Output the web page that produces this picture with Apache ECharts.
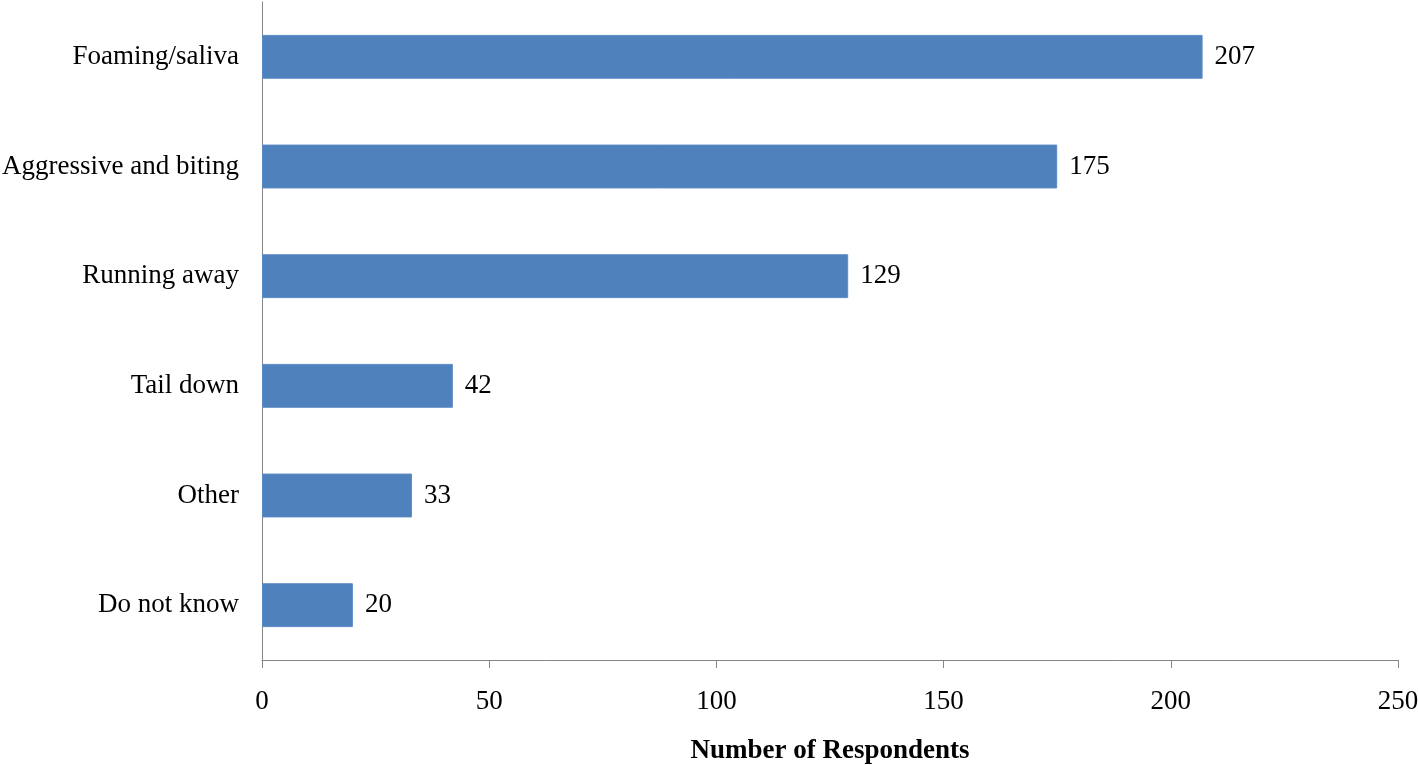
<!DOCTYPE html>
<html>
<head>
<meta charset="utf-8">
<script src="https://cdn.jsdelivr.net/npm/echarts@6/dist/echarts.min.js"></script>
<style>html,body{margin:0;padding:0;background:#fff}#c{width:1418px;height:765px}</style>
</head>
<body>
<div id="c"></div>
<script>
const categories = ["Foaming/saliva", "Aggressive and biting", "Running away", "Tail down", "Other", "Do not know"];
const values = [207, 175, 129, 42, 33, 20];
const xTicks = [0, 50, 100, 150, 200, 250];

const chart = echarts.init(document.getElementById('c'), null, {renderer: 'canvas'});
const font = "'Liberation Serif', 'Times New Roman', serif";
chart.setOption({
  animation: false,
  backgroundColor: '#ffffff',
  grid: {left: 262, right: 20, top: 2, bottom: 105, containLabel: false, outerBoundsMode: 'none'},
  xAxis: {
    type: 'value', min: xTicks[0], max: xTicks[xTicks.length - 1], interval: 50,
    name: 'Number of Respondents', nameLocation: 'middle', nameGap: 78,
    nameTextStyle: {fontFamily: font, fontSize: 27, fontWeight: 'bold', color: '#000'},
    axisLine: {show: true, lineStyle: {color: '#868686', width: 1}},
    axisTick: {show: true, length: 8, lineStyle: {color: '#868686'}},
    axisLabel: {fontFamily: font, fontSize: 27, color: '#000', margin: 28},
    splitLine: {show: false}
  },
  yAxis: {
    type: 'category', data: categories, inverse: true,
    axisLine: {show: true, lineStyle: {color: '#868686', width: 1}},
    axisTick: {show: false},
    axisLabel: {fontFamily: font, fontSize: 27, color: '#000', margin: 23}
  },
  series: [{
    type: 'bar', data: values, barWidth: '40%',
    itemStyle: {color: '#4F81BD', borderColor: '#5B8BC6', borderWidth: 1},
    label: {show: true, position: 'right', distance: 12, fontFamily: font, fontSize: 27, color: '#000'}
  }]
});
</script>
</body>
</html>
